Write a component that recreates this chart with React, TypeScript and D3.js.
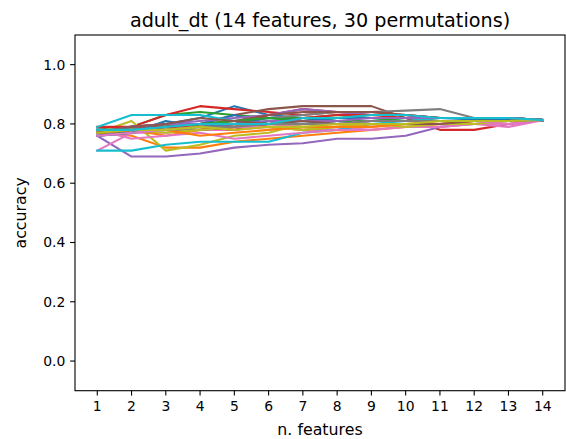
import React from "react";
import * as d3 from "d3";

const features = [1, 2, 3, 4, 5, 6, 7, 8, 9, 10, 11, 12, 13, 14];
const yTicks = [0.0, 0.2, 0.4, 0.6, 0.8, 1.0];
const palette = ["#1f77b4", "#ff7f0e", "#2ca02c", "#d62728", "#9467bd", "#8c564b", "#e377c2", "#7f7f7f", "#bcbd22", "#17becf"];

const s00 = [0.77, 0.78, 0.80, 0.82, 0.86, 0.83, 0.82, 0.81, 0.81, 0.81, 0.81, 0.815, 0.815, 0.813];
const s01 = [0.77, 0.76, 0.72, 0.72, 0.74, 0.75, 0.76, 0.77, 0.78, 0.79, 0.80, 0.81, 0.81, 0.813];
const s02 = [0.78, 0.79, 0.83, 0.84, 0.83, 0.82, 0.82, 0.83, 0.82, 0.82, 0.82, 0.82, 0.815, 0.813];
const s03 = [0.78, 0.79, 0.83, 0.86, 0.85, 0.84, 0.83, 0.84, 0.83, 0.82, 0.78, 0.78, 0.80, 0.813];
const s04 = [0.76, 0.69, 0.69, 0.70, 0.72, 0.73, 0.735, 0.75, 0.75, 0.76, 0.79, 0.80, 0.81, 0.813];
const s05 = [0.76, 0.78, 0.79, 0.80, 0.83, 0.85, 0.86, 0.86, 0.86, 0.82, 0.81, 0.81, 0.815, 0.813];
const s06 = [0.71, 0.77, 0.77, 0.78, 0.78, 0.79, 0.78, 0.78, 0.79, 0.80, 0.80, 0.80, 0.79, 0.813];
const s07 = [0.77, 0.78, 0.79, 0.80, 0.81, 0.82, 0.83, 0.84, 0.84, 0.845, 0.85, 0.82, 0.82, 0.813];
const s08 = [0.77, 0.81, 0.71, 0.73, 0.76, 0.77, 0.80, 0.80, 0.80, 0.80, 0.80, 0.81, 0.81, 0.813];
const s09 = [0.71, 0.71, 0.73, 0.74, 0.74, 0.74, 0.77, 0.78, 0.80, 0.81, 0.82, 0.82, 0.82, 0.813];
const s10 = [0.78, 0.77, 0.79, 0.80, 0.83, 0.80, 0.81, 0.80, 0.81, 0.81, 0.81, 0.81, 0.815, 0.813];
const s11 = [0.77, 0.78, 0.76, 0.78, 0.80, 0.79, 0.78, 0.79, 0.80, 0.80, 0.80, 0.81, 0.81, 0.813];
const s12 = [0.77, 0.77, 0.80, 0.79, 0.80, 0.81, 0.81, 0.82, 0.82, 0.82, 0.82, 0.82, 0.82, 0.813];
const s13 = [0.79, 0.79, 0.79, 0.80, 0.79, 0.83, 0.85, 0.84, 0.84, 0.83, 0.82, 0.82, 0.82, 0.813];
const s14 = [0.77, 0.79, 0.80, 0.81, 0.82, 0.83, 0.85, 0.84, 0.83, 0.83, 0.82, 0.82, 0.82, 0.813];
const s15 = [0.77, 0.79, 0.80, 0.80, 0.81, 0.83, 0.84, 0.84, 0.84, 0.83, 0.82, 0.82, 0.82, 0.813];
const s16 = [0.78, 0.75, 0.76, 0.77, 0.75, 0.76, 0.77, 0.78, 0.78, 0.79, 0.79, 0.80, 0.80, 0.813];
const s17 = [0.76, 0.77, 0.78, 0.78, 0.79, 0.80, 0.80, 0.81, 0.81, 0.81, 0.81, 0.81, 0.81, 0.813];
const s18 = [0.77, 0.78, 0.77, 0.78, 0.79, 0.79, 0.78, 0.79, 0.80, 0.79, 0.80, 0.80, 0.81, 0.813];
const s19 = [0.79, 0.83, 0.83, 0.83, 0.81, 0.80, 0.80, 0.80, 0.81, 0.82, 0.82, 0.82, 0.82, 0.813];
const s20 = [0.76, 0.77, 0.81, 0.79, 0.80, 0.82, 0.81, 0.82, 0.82, 0.82, 0.82, 0.82, 0.82, 0.813];
const s21 = [0.77, 0.78, 0.78, 0.76, 0.77, 0.78, 0.79, 0.79, 0.79, 0.80, 0.81, 0.81, 0.81, 0.813];
const s22 = [0.78, 0.78, 0.78, 0.80, 0.81, 0.82, 0.81, 0.81, 0.81, 0.82, 0.82, 0.82, 0.82, 0.813];
const s23 = [0.77, 0.78, 0.79, 0.79, 0.78, 0.80, 0.82, 0.83, 0.83, 0.83, 0.82, 0.82, 0.82, 0.813];
const s24 = [0.77, 0.79, 0.80, 0.80, 0.80, 0.81, 0.81, 0.81, 0.82, 0.82, 0.82, 0.82, 0.82, 0.813];
const s25 = [0.77, 0.79, 0.80, 0.82, 0.81, 0.80, 0.81, 0.80, 0.80, 0.80, 0.80, 0.81, 0.81, 0.813];
const s26 = [0.76, 0.77, 0.78, 0.79, 0.79, 0.79, 0.80, 0.80, 0.81, 0.81, 0.81, 0.81, 0.80, 0.813];
const s27 = [0.78, 0.78, 0.78, 0.79, 0.79, 0.80, 0.80, 0.80, 0.81, 0.81, 0.81, 0.81, 0.81, 0.813];
const s28 = [0.77, 0.78, 0.78, 0.79, 0.78, 0.79, 0.79, 0.80, 0.80, 0.80, 0.81, 0.81, 0.81, 0.813];
const s29 = [0.78, 0.78, 0.79, 0.80, 0.80, 0.80, 0.82, 0.82, 0.83, 0.83, 0.82, 0.82, 0.82, 0.813];

const series = [s00, s01, s02, s03, s04, s05, s06, s07, s08, s09, s10, s11, s12, s13, s14, s15, s16, s17, s18, s19, s20, s21, s22, s23, s24, s25, s26, s27, s28, s29];

const W = 566, H = 439;
const left = 75, right = 565, top = 35, bottom = 390.7;
const font = "DejaVu Sans, sans-serif";

export default function App() {
  const x = d3.scaleLinear().domain([0.35, 14.65]).range([left, right]);
  const y = d3.scaleLinear().domain([-0.1, 1.1]).range([bottom, top]);
  const line = d3.line<number>().x((_, i) => x(features[i])).y((d) => y(d));
  return (
    <svg width={W} height={H} style={{ position: "absolute", left: 0, top: 0, background: "#fff" }} fontFamily={font}>
      <rect x={0} y={0} width={W} height={H} fill="#fff" />
      <g>
        {series.map((s, i) => (
          <path key={i} d={line(s) || ""} fill="none" stroke={palette[i % 10]} strokeWidth={2.08} strokeLinejoin="round" strokeLinecap="square" />
        ))}
      </g>
      <rect x={left} y={top} width={right - left} height={bottom - top} fill="none" stroke="#000" strokeWidth={1.1} />
      {features.map((f) => (
        <g key={f}>
          <line x1={x(f)} x2={x(f)} y1={bottom} y2={bottom + 4.9} stroke="#000" strokeWidth={1.1} />
          <text x={x(f)} y={bottom + 20.5} textAnchor="middle" fontSize={13.9} fill="#000">{f}</text>
        </g>
      ))}
      {yTicks.map((t) => (
        <g key={t}>
          <line x1={left - 4.9} x2={left} y1={y(t)} y2={y(t)} stroke="#000" strokeWidth={1.1} />
          <text x={left - 9.7} y={y(t)} dy="0.36em" textAnchor="end" fontSize={13.9} fill="#000">{t.toFixed(1)}</text>
        </g>
      ))}
      <text x={(left + right) / 2} y={435} textAnchor="middle" fontSize={15.8} fill="#000">n. features</text>
      <text transform={`translate(${26}, ${(top + bottom) / 2}) rotate(-90)`} textAnchor="middle" fontSize={15.8} fill="#000">accuracy</text>
      <text x={(left + right) / 2} y={top - 8.3} textAnchor="middle" fontSize={19.2} fill="#000">adult_dt (14 features, 30 permutations)</text>
    </svg>
  );
}
